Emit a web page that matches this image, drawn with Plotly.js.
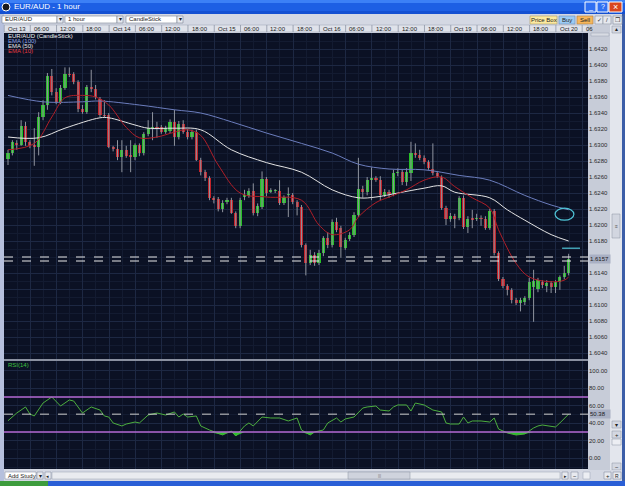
<!DOCTYPE html>
<html><head><meta charset="utf-8">
<script src="https://cdn.plot.ly/plotly-3.0.1.min.js"></script>
<style>html,body{margin:0;padding:0;background:#d4d8e3;overflow:hidden}</style>
</head><body><div id="chart" style="width:625px;height:486px"></div>
<script>
// ---------- DATA (EUR/AUD, 1 hour candles) ----------
const openP = [
1.6282,1.6290,1.6302,1.6300,1.6324,1.6304,1.6300,1.6297,1.6335,1.6350,
1.6386,1.6366,1.6354,1.6371,1.6389,1.6389,1.6379,1.6345,1.6341,1.6372,
1.6370,1.6357,1.6337,1.6337,1.6297,1.6295,1.6285,1.6294,1.6287,1.6285,
1.6300,1.6290,1.6314,1.6321,1.6322,1.6322,1.6316,1.6317,1.6329,1.6310,
1.6326,1.6316,1.6310,1.6316,1.6281,1.6266,1.6259,1.6234,1.6232,1.6220,
1.6229,1.6231,1.6215,1.6199,1.6235,1.6236,1.6242,1.6215,1.6222,1.6257,
1.6241,1.6242,1.6242,1.6227,1.6237,1.6237,1.6229,1.6222,1.6175,1.6152,
1.6162,1.6152,1.6165,1.6184,1.6175,1.6204,1.6196,1.6171,1.6182,1.6187,
1.6212,1.6245,1.6241,1.6256,1.6259,1.6256,1.6237,1.6241,1.6239,1.6265,
1.6266,1.6254,1.6265,1.6290,1.6287,1.6284,1.6279,1.6270,1.6265,1.6260,
1.6221,1.6207,1.6211,1.6209,1.6234,1.6197,1.6209,1.6207,1.6209,1.6207,
1.6196,1.6217,1.6165,1.6132,1.6124,1.6119,1.6106,1.6102,1.6104,1.6109,
1.6122,1.6120,1.6129,1.6124,1.6127,1.6122,1.6129,1.6135,1.6140];
const highP = [
1.6294,1.6306,1.6306,1.6331,1.6329,1.6306,1.6321,1.6341,1.6356,1.6390,
1.6395,1.6371,1.6375,1.6397,1.6397,1.6391,1.6381,1.6350,1.6375,1.6394,
1.6375,1.6360,1.6356,1.6340,1.6299,1.6306,1.6306,1.6299,1.6306,1.6302,
1.6302,1.6316,1.6331,1.6341,1.6329,1.6325,1.6324,1.6332,1.6344,1.6330,
1.6331,1.6320,1.6319,1.6319,1.6284,1.6269,1.6261,1.6236,1.6235,1.6231,
1.6234,1.6234,1.6217,1.6234,1.6244,1.6246,1.6252,1.6227,1.6267,1.6260,
1.6246,1.6245,1.6256,1.6237,1.6247,1.6240,1.6231,1.6225,1.6177,1.6169,
1.6166,1.6169,1.6186,1.6191,1.6207,1.6209,1.6199,1.6184,1.6191,1.6216,
1.6284,1.6249,1.6260,1.6272,1.6261,1.6261,1.6245,1.6244,1.6269,1.6271,
1.6269,1.6271,1.6304,1.6302,1.6294,1.6287,1.6281,1.6302,1.6267,1.6262,
1.6224,1.6215,1.6214,1.6236,1.6237,1.6211,1.6219,1.6214,1.6212,1.6211,
1.6220,1.6220,1.6167,1.6135,1.6126,1.6121,1.6109,1.6109,1.6111,1.6134,
1.6144,1.6134,1.6131,1.6131,1.6130,1.6131,1.6137,1.6149,1.6164];
const lowP = [
1.6275,1.6287,1.6294,1.6299,1.6299,1.6296,1.6274,1.6287,1.6331,1.6344,
1.6362,1.6351,1.6351,1.6369,1.6385,1.6376,1.6341,1.6339,1.6339,1.6366,
1.6357,1.6335,1.6334,1.6296,1.6292,1.6281,1.6266,1.6284,1.6266,1.6281,
1.6286,1.6287,1.6311,1.6306,1.6309,1.6314,1.6314,1.6315,1.6299,1.6307,
1.6314,1.6307,1.6307,1.6280,1.6262,1.6255,1.6231,1.6227,1.6217,1.6216,
1.6226,1.6214,1.6196,1.6196,1.6231,1.6234,1.6212,1.6211,1.6220,1.6236,
1.6240,1.6240,1.6225,1.6225,1.6210,1.6226,1.6212,1.6172,1.6137,1.6150,
1.6149,1.6150,1.6161,1.6171,1.6172,1.6191,1.6159,1.6169,1.6180,1.6185,
1.6210,1.6234,1.6237,1.6231,1.6254,1.6231,1.6235,1.6234,1.6236,1.6261,
1.6250,1.6249,1.6255,1.6284,1.6281,1.6276,1.6269,1.6262,1.6259,1.6219,
1.6200,1.6204,1.6196,1.6206,1.6195,1.6190,1.6196,1.6205,1.6199,1.6194,
1.6194,1.6162,1.6130,1.6121,1.6112,1.6102,1.6100,1.6092,1.6100,1.6106,
1.6079,1.6116,1.6121,1.6116,1.6115,1.6115,1.6119,1.6132,1.6137];
const closeP = [
1.6290,1.6304,1.6300,1.6324,1.6304,1.6299,1.6297,1.6335,1.6350,1.6386,
1.6366,1.6354,1.6371,1.6389,1.6387,1.6379,1.6345,1.6341,1.6372,1.6370,
1.6360,1.6337,1.6336,1.6297,1.6295,1.6285,1.6294,1.6286,1.6285,1.6300,
1.6290,1.6314,1.6321,1.6322,1.6321,1.6316,1.6321,1.6329,1.6310,1.6326,
1.6316,1.6310,1.6316,1.6281,1.6266,1.6259,1.6234,1.6231,1.6220,1.6227,
1.6231,1.6215,1.6199,1.6231,1.6237,1.6242,1.6215,1.6224,1.6257,1.6240,
1.6244,1.6243,1.6227,1.6235,1.6238,1.6229,1.6222,1.6175,1.6152,1.6162,
1.6152,1.6165,1.6184,1.6175,1.6204,1.6194,1.6172,1.6181,1.6187,1.6212,
1.6245,1.6241,1.6256,1.6259,1.6256,1.6237,1.6241,1.6239,1.6265,1.6266,
1.6254,1.6266,1.6290,1.6287,1.6284,1.6279,1.6271,1.6265,1.6261,1.6221,
1.6207,1.6211,1.6207,1.6234,1.6197,1.6207,1.6206,1.6209,1.6208,1.6196,
1.6217,1.6165,1.6132,1.6124,1.6119,1.6106,1.6102,1.6106,1.6109,1.6129,
1.6130,1.6131,1.6125,1.6127,1.6122,1.6129,1.6135,1.6140,1.6157];

// EMA lines (candle index, price)
const ema100X = [0,8,17,21,30,38,44,51,59,67,74,80,87,95,103,110,118,124,128];
const ema100Y = [1.6362,1.6354,1.6354,1.6355,1.6350,1.6344,1.6340,1.6329,1.6315,1.6302,1.6290,1.6276,1.6270,1.6269,1.6262,1.6256,1.6237,1.6225,1.6219];
const ema50X = [0,7,13,21,23,29,32,38,44,51,59,67,74,80,84,89,95,99,102,110,114,118,124,128];
const ema50Y = [1.6310,1.6309,1.6321,1.6334,1.6334,1.6325,1.6321,1.6321,1.6319,1.6294,1.6278,1.6266,1.6244,1.6234,1.6235,1.6240,1.6246,1.6249,1.6241,1.6234,1.6219,1.6206,1.6188,1.6180];
const ema10X = [0,6,10,13,17,20,23,27,30,34,38,41,44,48,53,59,67,71,74,78,80,84,87,91,95,99,102,106,110,112,116,119,124,127,128];
const ema10Y = [1.6294,1.6302,1.6335,1.6359,1.6362,1.6360,1.6350,1.6322,1.6309,1.6310,1.6316,1.6319,1.6312,1.6275,1.6240,1.6235,1.6231,1.6200,1.6188,1.6194,1.6210,1.6228,1.6235,1.6244,1.6256,1.6260,1.6248,1.6234,1.6221,1.6194,1.6152,1.6135,1.6129,1.6131,1.6135];

// RSI(14)
const rsiX = [0,2,4,5,6,8,10,12,14,15,17,19,21,22,23,24,26,27,29,30,32,34,36,38,39,40,41,43,44,46,49,50,51,52,54,55,56,58,60,62,64,66,67,69,70,72,73,75,76,77,79,81,82,84,85,87,88,89,91,92,93,95,97,99,100,101,103,104,105,106,108,110,111,112,114,116,118,120,121,122,125,126,127,128];
const rsiY = [42.9,51.7,58.6,50.6,48.3,63.1,70.0,59.7,66.6,65.4,51.7,58.6,55.1,48.3,47.1,40.3,36.9,39.1,41.4,40.3,49.4,51.7,49.4,52.9,47.1,50.6,47.1,48.3,36.9,32.3,26.6,28.9,31.1,25.4,36.9,40.3,36.9,47.1,46.0,46.0,42.6,46.0,32.3,26.6,30.0,32.3,40.3,46.0,41.4,44.9,47.1,57.4,58.6,59.7,55.1,54.0,58.6,60.9,60.9,54.0,63.1,60.9,55.1,52.9,40.3,39.1,39.1,47.1,40.3,42.6,42.6,41.4,46.0,33.4,28.9,26.6,27.7,34.6,36.9,38.0,35.7,40.3,44.9,50.4];

const timeLabels = ['Oct 13','06:00','12:00','18:00','Oct 14','06:00','12:00','18:00','Oct 15','06:00','12:00','18:00','Oct 16','06:00','12:00','12:00','18:00','Oct 19','06:00','12:00','18:00','Oct 20','06'];
const priceTicks = [1.6040,1.6060,1.6080,1.6100,1.6120,1.6140,1.6180,1.6200,1.6220,1.6240,1.6260,1.6280,1.6300,1.6320,1.6340,1.6360,1.6380,1.6400,1.6420];
const rsiTicks = [0,20,40,60,80,100];
const lastPrice = 1.6157, bidLine = 1.6160, askLine = 1.6155;
const rsiLast = 50.38, rsiUpper = 70, rsiLower = 30;

// ---------- BUILD ----------
const W = 625, H = 486;
const PX = v => v / W, PY = v => 1 - v / H;
const xRange = [-0.913, 132.42];
const FONT = 'Liberation Sans, Arial, DejaVu Sans, sans-serif';
const idx = openP.map((_, i) => i);

const wx = [], wy = [];
idx.forEach(i => { wx.push(i, i, null); wy.push(lowP[i], highP[i], null); });

const bodyBase = idx.map(i => Math.min(openP[i], closeP[i]));
const bodyLen = idx.map(i => Math.max(Math.abs(closeP[i] - openP[i]), 0.00012));
const bodyCol = idx.map(i => closeP[i] > openP[i] ? '#27bf27' : (closeP[i] < openP[i] ? '#c2232a' : '#d0d0d0'));

const traces = [
  {type:'scatter', mode:'lines', x:wx, y:wy, xaxis:'x', yaxis:'y', line:{color:'#8f949e', width:1}, hoverinfo:'skip'},
  {type:'bar', x:idx, base:bodyBase, y:bodyLen, width:0.72, xaxis:'x', yaxis:'y', marker:{color:bodyCol, line:{width:0}}, hoverinfo:'skip'},
  {type:'scatter', mode:'lines', x:ema100X, y:ema100Y, xaxis:'x', yaxis:'y', line:{color:'#6b7dbd', width:1, shape:'spline'}, hoverinfo:'skip'},
  {type:'scatter', mode:'lines', x:ema50X, y:ema50Y, xaxis:'x', yaxis:'y', line:{color:'#e4e4e4', width:1, shape:'spline'}, hoverinfo:'skip'},
  {type:'scatter', mode:'lines', x:ema10X, y:ema10Y, xaxis:'x', yaxis:'y', line:{color:'#b01e28', width:1, shape:'spline'}, hoverinfo:'skip'},
  {type:'scatter', mode:'lines', x:rsiX, y:rsiX.map(() => rsiLower), xaxis:'x2', yaxis:'y2', line:{width:0}, hoverinfo:'skip'},
  {type:'scatter', mode:'lines', x:rsiX, y:rsiY.map(v => Math.min(v, rsiLower)), xaxis:'x2', yaxis:'y2', fill:'tonexty', fillcolor:'rgba(40,215,40,0.9)', line:{width:0}, hoverinfo:'skip'},
  {type:'scatter', mode:'lines', x:rsiX, y:rsiY, xaxis:'x2', yaxis:'y2', line:{color:'#4cae3e', width:1}, hoverinfo:'skip'}
];

const shapes = [], ann = [];
function rect(x0, y0, x1, y1, fill, line, lw) {
  shapes.push({type:'rect', xref:'paper', yref:'paper', x0:PX(x0), x1:PX(x1), y0:PY(y1), y1:PY(y0),
    fillcolor:fill, line:{color:line || fill, width:lw || 0}, layer:'below'});
}
function txt(x, y, t, color, size, extra) {
  ann.push(Object.assign({xref:'paper', yref:'paper', x:PX(x), y:PY(y), text:t, showarrow:false,
    xanchor:'left', yanchor:'middle', borderpad:0, font:{family:FONT, size:size || 6, color:color || '#1b1b1b'}}, extra || {}));
}

// title bar
rect(0, 0, 625, 14, '#1d5fe4');
rect(0, 0, 625, 3, '#3c80f6');
rect(0, 11, 625, 14, '#1450d2');
shapes.push({type:'circle', xref:'paper', yref:'paper', x0:PX(2), x1:PX(10), y0:PY(11), y1:PY(3), fillcolor:'#1a1a1a', line:{color:'#ffffff', width:1}, layer:'below'});
txt(13, 7, 'EUR/AUD - 1 hour', '#ffffff', 8);
rect(585, 2, 596, 12, '#2f70f2', '#ffffff', 1); txt(590.5, 7, '_', '#ffffff', 7, {xanchor:'center'});
rect(597, 2, 608, 12, '#2f70f2', '#ffffff', 1); txt(602.5, 7, '?', '#ffffff', 7, {xanchor:'center'});
rect(609, 2, 622, 12, '#d9461f', '#ffffff', 1); txt(615.5, 7, '×', '#ffffff', 9, {xanchor:'center'});
// left / right window borders
rect(0, 14, 4, 481, '#b6c0dd');
rect(622, 14, 625, 481, '#3c5ea8');

// toolbar dropdowns
rect(2, 16, 57, 23, '#ffffff', '#7a8396', 0.6); rect(57, 16, 63, 23, '#e8eaf0', '#7a8396', 0.6);
txt(4, 19.5, 'EUR/AUD'); txt(60, 19.5, '▾', '#222', 6, {xanchor:'center'});
rect(65, 16, 117, 23, '#ffffff', '#7a8396', 0.6); rect(117, 16, 123, 23, '#e8eaf0', '#7a8396', 0.6);
txt(67, 19.5, '1 hour'); txt(120, 19.5, '▾', '#222', 6, {xanchor:'center'});
rect(126, 16, 177, 23, '#ffffff', '#7a8396', 0.6); rect(177, 16, 183, 23, '#e8eaf0', '#7a8396', 0.6);
txt(128, 19.5, 'CandleStick'); txt(180, 19.5, '▾', '#222', 6, {xanchor:'center'});
// toolbar buttons
rect(530, 16, 557, 24, '#fbe9a0', '#b0a060', 0.6); txt(543.5, 20, 'Price Box', '#222', 6, {xanchor:'center'});
rect(559, 16, 575, 24, '#9ccbf4', '#6b8fb5', 0.6); txt(567, 20, 'Buy', '#222', 6, {xanchor:'center'});
rect(577, 16, 593, 24, '#f6b65c', '#b08040', 0.6); txt(585, 20, 'Sell', '#222', 6, {xanchor:'center'});
rect(595, 16, 603, 24, '#e6e8ee', '#8890a0', 0.6); txt(599, 20, '✓', '#333', 6, {xanchor:'center'});
rect(603, 16, 611, 24, '#e6e8ee', '#8890a0', 0.6); txt(607, 20, '/', '#333', 6, {xanchor:'center'});
rect(613, 16, 622, 24, '#e6e8ee', '#8890a0', 0.6); txt(617.5, 20, '❐', '#333', 6, {xanchor:'center'});

// time label row
rect(4, 25, 588, 32, '#dfe2ea', '#9aa1b2', 0.5);
timeLabels.forEach((t, k) => {
  const c0 = xRange[0] + 6 * k;
  shapes.push({type:'line', xref:'x', yref:'paper', x0:c0, x1:c0, y0:PY(32), y1:PY(25), line:{color:'#8e95a6', width:0.8}});
  ann.push({xref:'x', yref:'paper', x:c0 + 0.6, y:PY(28.6), text:t, showarrow:false, xanchor:'left', yanchor:'middle', borderpad:0,
    font:{family:FONT, size:6, color:'#1b1b1b'}});
});

// price column & scrollbar
rect(588, 25, 610, 470, '#c7ccd8');
rect(591, 33, 609, 36, '#d8dbe3', '#9aa1b2', 0.5);
rect(610, 25, 622, 470, '#e3e6ed');
rect(612, 26, 621, 33, '#d3d7e1', '#8890a0', 0.5); txt(616.5, 29.5, '▲', '#222', 5, {xanchor:'center'});
rect(612, 214, 620, 238, '#d2d6e0', '#8890a0', 0.5); txt(616, 226, '≡', '#555', 5, {xanchor:'center'});
rect(612, 421, 621, 428, '#d3d7e1', '#8890a0', 0.5); txt(616.5, 424.5, '▾', '#222', 6, {xanchor:'center'});
rect(612, 431, 621, 438, '#d3d7e1', '#8890a0', 0.5); txt(616.5, 434.5, '+', '#222', 6, {xanchor:'center'});
rect(612, 439, 621, 445, '#eceef3', '#8890a0', 0.5);
rect(612, 463, 621, 470, '#d3d7e1', '#8890a0', 0.5); txt(616.5, 466.5, '−', '#222', 6, {xanchor:'center'});

// panel separator
rect(4, 359, 588, 361, '#8a90a0');

// bottom bar
rect(4, 470, 622, 481, '#d4d8e3');
rect(5, 472, 36, 479, '#ffffff', '#7a8396', 0.5); txt(7, 475.5, 'Add Study');
rect(37, 472, 43, 479, '#e8eaf0', '#7a8396', 0.5); txt(40, 475.5, '▾', '#222', 6, {xanchor:'center'});
rect(45, 472, 51, 479, '#e8eaf0', '#7a8396', 0.5); txt(48, 475.5, '◂', '#222', 5, {xanchor:'center'});
rect(52, 472, 560, 479, '#e9ebf0', '#9aa1b2', 0.5);
rect(348, 472, 410, 479, '#cfd3dd', '#8890a0', 0.5); txt(379, 475.5, '|||', '#777', 4, {xanchor:'center'});
rect(562, 472, 568, 479, '#e8eaf0', '#7a8396', 0.5); txt(565, 475.5, '▸', '#222', 5, {xanchor:'center'});
rect(571, 472, 578, 479, '#e8eaf0', '#7a8396', 0.5); txt(574.5, 475.5, '−', '#222', 6, {xanchor:'center'});
rect(583, 472, 590, 479, '#eceef3', '#9aa1b2', 0.5);
rect(604, 472, 611, 479, '#e8eaf0', '#7a8396', 0.5); txt(607.5, 475.5, '+', '#222', 6, {xanchor:'center'});
rect(613, 472, 621, 479, '#e8eaf0', '#7a8396', 0.5); txt(617, 475.5, 'R', '#222', 5, {xanchor:'center'});
// taskbar strip
rect(0, 481, 625, 486, '#2a5fd6');
rect(0, 481, 48, 486, '#3d9c3d');

// chart overlays
const lineShape = (yref, y, color, dash, w) => ({type:'line', xref:'paper', yref:yref, x0:PX(4), x1:PX(588), y0:y, y1:y, line:{color:color, width:w || 1, dash:dash || 'solid'}});
shapes.push(lineShape('y', bidLine, '#e8e8e8', 'dash', 1));
shapes.push(lineShape('y', askLine, '#e8e8e8', 'dash', 1));
shapes.push(lineShape('y2', rsiUpper, '#b469d2', 'solid', 1.5));
shapes.push(lineShape('y2', rsiLower, '#b469d2', 'solid', 1.5));
shapes.push(lineShape('y2', rsiLast, '#cfcfcf', 'dash', 1));
// hand-drawn marks
shapes.push({type:'circle', xref:'x', yref:'y', x0:124.9, x1:129.2, y0:1.6206, y1:1.6221, line:{color:'#4fc3d6', width:1.2}});
shapes.push({type:'line', xref:'x', yref:'y', x0:126.5, x1:130.6, y0:1.6171, y1:1.6171, line:{color:'#4fc3d6', width:1.2}});

// legend texts
txt(7, 36.5, 'EUR/AUD (CandleStick)', '#f0f0f0', 6);
txt(7, 41.5, 'EMA (100)', '#8fa3e2', 6);
txt(7, 46.5, 'EMA (50)', '#e6e6e6', 6);
txt(7, 51.5, 'EMA (10)', '#e23a40', 6);
txt(7, 364.5, 'RSI(14)', '#3fc23f', 6);

// last value boxes
ann.push({xref:'paper', yref:'y', x:PX(589), y:lastPrice, text:lastPrice.toFixed(4), showarrow:false, xanchor:'left', yanchor:'middle',
  bgcolor:'#a9b0c4', width:20, height:8, align:'left', borderpad:0, font:{family:FONT, size:6, color:'#1b1b1b'}});
ann.push({xref:'paper', yref:'y2', x:PX(589), y:rsiLast, text:rsiLast.toFixed(2), showarrow:false, xanchor:'left', yanchor:'middle',
  bgcolor:'#a9b0c4', width:20, height:8, align:'left', borderpad:0, font:{family:FONT, size:6, color:'#1b1b1b'}});

const gridMajor = '#1d2843', gridMinor = '#131b31';
const layout = {
  width:W, height:H, margin:{l:0, r:0, t:0, b:0, pad:0},
  paper_bgcolor:'#d4d8e3', plot_bgcolor:'#0b1124', showlegend:false, bargap:0,
  font:{family:FONT, size:6, color:'#222'},
  xaxis:{domain:[PX(4), PX(588)], range:xRange, anchor:'y', showticklabels:false, ticks:'', zeroline:false, showline:false,
    showgrid:true, gridcolor:gridMajor, tick0:xRange[0], dtick:6,
    minor:{tick0:xRange[0], dtick:3, showgrid:true, gridcolor:gridMinor}, fixedrange:true},
  yaxis:{domain:[PY(359), PY(33)], range:[1.60325, 1.6440], anchor:'x', side:'right', tickvals:priceTicks, tickformat:'.4f',
    ticks:'', zeroline:false, showline:false, showgrid:true, gridcolor:gridMajor, tickfont:{family:FONT, size:6, color:'#2a2a2a'},
    minor:{dtick:0.001, tick0:1.604, showgrid:true, gridcolor:gridMinor}, fixedrange:true},
  xaxis2:{domain:[PX(4), PX(588)], range:xRange, anchor:'y2', showticklabels:false, ticks:'', zeroline:false, showline:false,
    showgrid:true, gridcolor:gridMajor, tick0:xRange[0], dtick:6,
    minor:{tick0:xRange[0], dtick:3, showgrid:true, gridcolor:gridMinor}, fixedrange:true},
  yaxis2:{domain:[PY(469), PY(361)], range:[-12.29, 111.14], anchor:'x2', side:'right', tickvals:rsiTicks, tickformat:'.2f',
    ticks:'', zeroline:false, showline:false, showgrid:true, gridcolor:gridMajor, tickfont:{family:FONT, size:6, color:'#2a2a2a'},
    minor:{tickvals:[10,30,50,70,90,110,-10], showgrid:true, gridcolor:gridMinor}, fixedrange:true},
  shapes:shapes, annotations:ann
};

Plotly.newPlot('chart', traces, layout, {staticPlot:true, displayModeBar:false});
</script>
</body></html>
